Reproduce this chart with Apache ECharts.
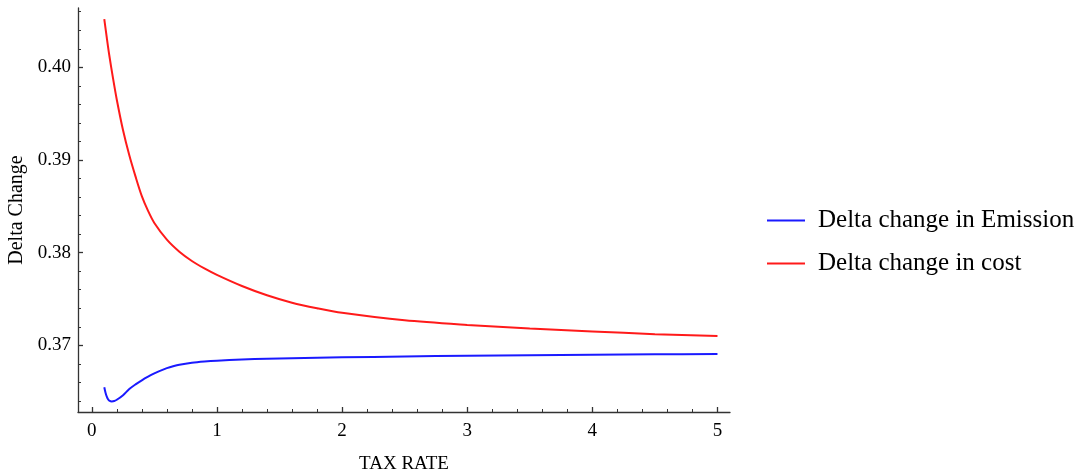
<!DOCTYPE html>
<html>
<head>
<meta charset="utf-8">
<script src="https://cdn.jsdelivr.net/npm/echarts@6/dist/echarts.min.js"></script>
<style>
  html, body { margin: 0; padding: 0; background: #fff; }
  #chart { width: 1078px; height: 473px; }
</style>
</head>
<body>
<div id="chart"></div>
<script>
// Delta change in emission vs. tax rate
const emissionRate = [0.10, 0.11, 0.12, 0.13, 0.14, 0.16, 0.18, 0.20, 0.25, 0.30, 0.35, 0.40,
                      0.45, 0.50, 0.55, 0.60, 0.65, 0.70, 0.80, 0.90, 1.00, 1.20, 1.40, 1.60,
                      1.80, 2.00, 2.50, 3.00, 3.50, 4.00, 4.50, 5.00];
const deltaEmission = [0.36547, 0.36488, 0.36445, 0.36418, 0.36403, 0.36394, 0.36398, 0.36412,
                       0.36462, 0.36528, 0.36578, 0.36622, 0.36661, 0.36696, 0.36727, 0.36753,
                       0.36774, 0.36791, 0.36812, 0.36825, 0.36834, 0.36846, 0.36855, 0.36861,
                       0.36866, 0.36870, 0.36879, 0.36887, 0.36893, 0.36898, 0.36902, 0.36906];

// Delta change in cost vs. tax rate
const costRate = [0.10, 0.12, 0.14, 0.17, 0.20, 0.25, 0.30, 0.35, 0.40, 0.45, 0.50, 0.60,
                  0.70, 0.80, 0.90, 1.00, 1.20, 1.40, 1.60, 1.80, 2.00, 2.50, 3.00, 3.50,
                  4.00, 4.50, 5.00];
const deltaCost = [0.4052, 0.4032, 0.4013, 0.3988, 0.3965, 0.3932, 0.3905, 0.3882, 0.3861,
                   0.3845, 0.3832, 0.3814, 0.3801, 0.3791, 0.3783, 0.3776, 0.3764, 0.3754,
                   0.3746, 0.3740, 0.3735, 0.3727, 0.3722, 0.3718, 0.3715, 0.3712, 0.3710];

const seriesNames = ['Delta change in Emission', 'Delta change in cost'];

// Axis ticks
const xTicks = [0, 1, 2, 3, 4, 5];
const xMinorTicks = [0.2, 0.4, 0.6, 0.8, 1.2, 1.4, 1.6, 1.8, 2.2, 2.4, 2.6, 2.8,
                     3.2, 3.4, 3.6, 3.8, 4.2, 4.4, 4.6, 4.8];
const yTicks = [0.37, 0.38, 0.39, 0.40];
const yMinorTicks = [0.364, 0.366, 0.368, 0.372, 0.374, 0.376, 0.378, 0.382, 0.384, 0.386,
                     0.388, 0.392, 0.394, 0.396, 0.398, 0.402, 0.404, 0.406];

const X_MIN = -0.11, X_MAX = 5.1;
const Y_MIN = 0.3628, Y_MAX = 0.4064;

const serif = '"Liberation Serif", "DejaVu Serif", serif';
const axisColor = '#333';
const blue = '#1a1aff';
const red = '#ff1a1a';

const chart = echarts.init(document.getElementById('chart'), null, { renderer: 'canvas' });

function pairs(xs, ys) { return xs.map((x, i) => [x, ys[i]]); }

chart.setOption({
  animation: false,
  backgroundColor: '#fff',
  grid: { left: 78, top: 8, right: 348, bottom: 61, containLabel: false, outerBoundsMode: 'none' },
  legend: {
    orient: 'vertical',
    left: 762,
    top: 203,
    itemWidth: 38,
    itemHeight: 2,
    itemGap: 18,
    icon: 'rect',
    data: seriesNames,
    textStyle: { fontFamily: serif, fontSize: 25, color: '#000', padding: [0, 0, 0, 8] }
  },
  xAxis: [
    {
      type: 'value', min: X_MIN, max: X_MAX, position: 'bottom',
      name: 'TAX RATE', nameLocation: 'middle', nameGap: 43,
      nameTextStyle: { fontFamily: serif, fontSize: 19, color: '#000' },
      axisLine: { show: true, onZero: false, lineStyle: { color: axisColor, width: 1.3 } },
      axisTick: { show: true, inside: true, length: 5, customValues: xTicks, lineStyle: { color: axisColor, width: 1.3 } },
      axisLabel: { show: true, customValues: xTicks, margin: 10, fontFamily: serif, fontSize: 19, color: '#000',
                   formatter: v => String(Math.round(v)) },
      splitLine: { show: false }
    },
    {
      type: 'value', min: X_MIN, max: X_MAX, position: 'bottom', offset: 0,
      axisLine: { show: false, onZero: false },
      axisTick: { show: true, inside: true, length: 3, customValues: xMinorTicks, lineStyle: { color: axisColor, width: 1 } },
      axisLabel: { show: false },
      splitLine: { show: false }
    }
  ],
  yAxis: [
    {
      type: 'value', min: Y_MIN, max: Y_MAX, position: 'left',
      name: 'Delta Change', nameLocation: 'middle', nameGap: 49, nameRotate: 90,
      nameTextStyle: { fontFamily: serif, fontSize: 20, color: '#000' },
      axisLine: { show: true, onZero: false, lineStyle: { color: axisColor, width: 1.3 } },
      axisTick: { show: true, inside: true, length: 5, customValues: yTicks, lineStyle: { color: axisColor, width: 1.3 } },
      axisLabel: { show: true, customValues: yTicks, margin: 7, fontFamily: serif, fontSize: 19, color: '#000',
                   formatter: v => v.toFixed(2) },
      splitLine: { show: false }
    },
    {
      type: 'value', min: Y_MIN, max: Y_MAX, position: 'left', offset: 0,
      axisLine: { show: false, onZero: false },
      axisTick: { show: true, inside: true, length: 3, customValues: yMinorTicks, lineStyle: { color: axisColor, width: 1 } },
      axisLabel: { show: false },
      splitLine: { show: false }
    }
  ],
  series: [
    {
      name: seriesNames[0], type: 'line', xAxisIndex: 0, yAxisIndex: 0,
      data: pairs(emissionRate, deltaEmission), smooth: 0.3, symbol: 'none',
      lineStyle: { color: blue, width: 2 }, itemStyle: { color: blue }
    },
    {
      name: seriesNames[1], type: 'line', xAxisIndex: 0, yAxisIndex: 0,
      data: pairs(costRate, deltaCost), smooth: 0.3, symbol: 'none',
      lineStyle: { color: red, width: 2 }, itemStyle: { color: red }
    }
  ]
});
</script>
</body>
</html>
